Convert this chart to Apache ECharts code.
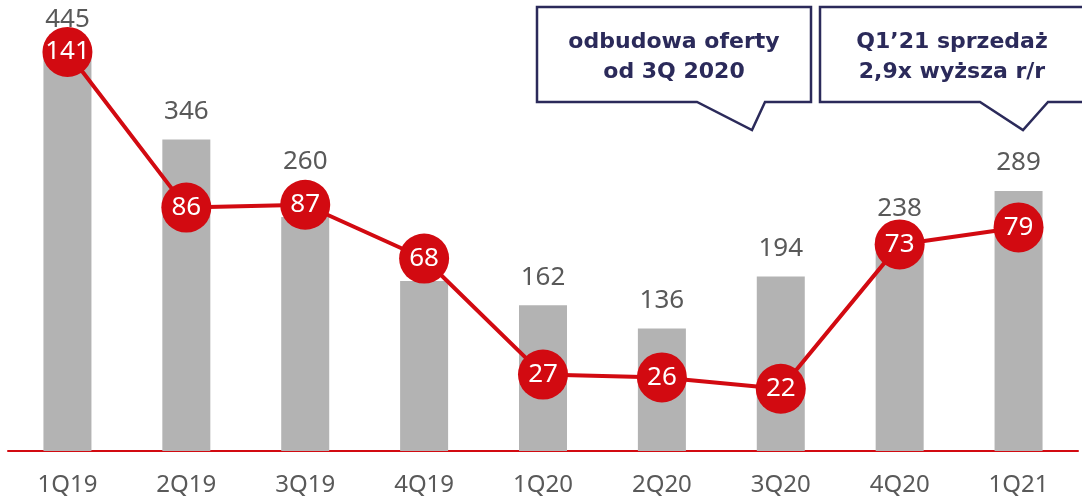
<!DOCTYPE html>
<html>
<head>
<meta charset="utf-8">
<script src="https://cdn.jsdelivr.net/npm/echarts@6/dist/echarts.min.js"></script>
<style>
  html, body { margin: 0; padding: 0; background: #fff; }
  #chart { width: 1082px; height: 502px; }
</style>
</head>
<body>
<div id="chart"></div>
<script>
    "use strict";

    // kwartały
    var categories = ['1Q19', '2Q19', '3Q19', '4Q19', '1Q20', '2Q20', '3Q20', '4Q20', '1Q21'];
    // słupki (szare)
    var barValues = [445, 346, 260, 189, 162, 136, 194, 238, 289];
    // linia (czerwona)
    var lineValues = [141, 86, 87, 68, 27, 26, 22, 73, 79];

    var navy = '#2b2a5a';
    var red = '#d20a11';
    var grey = '#595959';

    var myChart = echarts.init(document.getElementById('chart'));

    // etykiety słupków, które kolidują z kółkami, podnosimy wyżej
    var liftLabel = { 0: 18, 2: 42 };
    var barData = barValues.map(function (v, i) {
        return liftLabel[i] ? { value: v, label: { distance: liftLabel[i] } } : v;
    });

    // dymek z ogonkiem
    var bubble = function (x1, x2, y1, y2, t1, tip, t2) {
        return {
            type: 'polygon',
            shape: {
                points: [[x1, y1], [x2, y1], [x2, y2], [t2, y2], tip, [t1, y2], [x1, y2]]
            },
            style: { fill: '#fff', stroke: navy, lineWidth: 2.5 },
            z: 100
        };
    };
    var bubbleText = function (cx, text) {
        return {
            type: 'text',
            x: cx,
            y: 57,
            style: {
                text: text,
                fill: navy,
                font: 'bold 22px "DejaVu Sans", sans-serif',
                align: 'center',
                verticalAlign: 'middle',
                lineHeight: 30
            },
            z: 101
        };
    };

    var option = {
        animation: false,
        grid: { left: 8, right: 4, top: 1, bottom: 51 },
        xAxis: {
            type: 'category',
            data: categories,
            axisLine: { lineStyle: { color: red, width: 2 } },
            axisTick: { show: false },
            axisLabel: {
                color: grey,
                fontSize: 24,
                fontFamily: 'Noto Sans',
                margin: 22
            }
        },
        yAxis: [
            { type: 'value', min: 0, max: 500, show: false, splitLine: { show: false } },
            { type: 'value', min: 0, max: 159, show: false, splitLine: { show: false } }
        ],
        series: [
            {
                type: 'bar',
                data: barData,
                barWidth: 48,
                itemStyle: { color: '#b3b3b3' },
                label: {
                    show: true,
                    position: 'top',
                    distance: 15,
                    color: grey,
                    fontSize: 26,
                    fontFamily: 'Noto Sans'
                },
                z: 2
            },
            {
                type: 'line',
                yAxisIndex: 1,
                data: lineValues,
                symbol: 'circle',
                symbolSize: 50,
                lineStyle: { color: red, width: 4 },
                itemStyle: { color: red },
                label: {
                    show: true,
                    position: 'inside',
                    color: '#fff',
                    fontSize: 26,
                    fontFamily: 'Noto Sans'
                },
                z: 5
            }
        ],
        graphic: [
            bubble(537, 811, 7, 102, 697, [752, 130], 765),
            bubbleText(674, 'odbudowa oferty\nod 3Q 2020'),
            bubble(820, 1092, 7, 102, 980, [1023, 130], 1048),
            bubbleText(952, 'Q1\u201921 sprzedaż\n2,9x wyższa r/r')
        ]
    };

    myChart.setOption(option);
</script>
</body>
</html>
